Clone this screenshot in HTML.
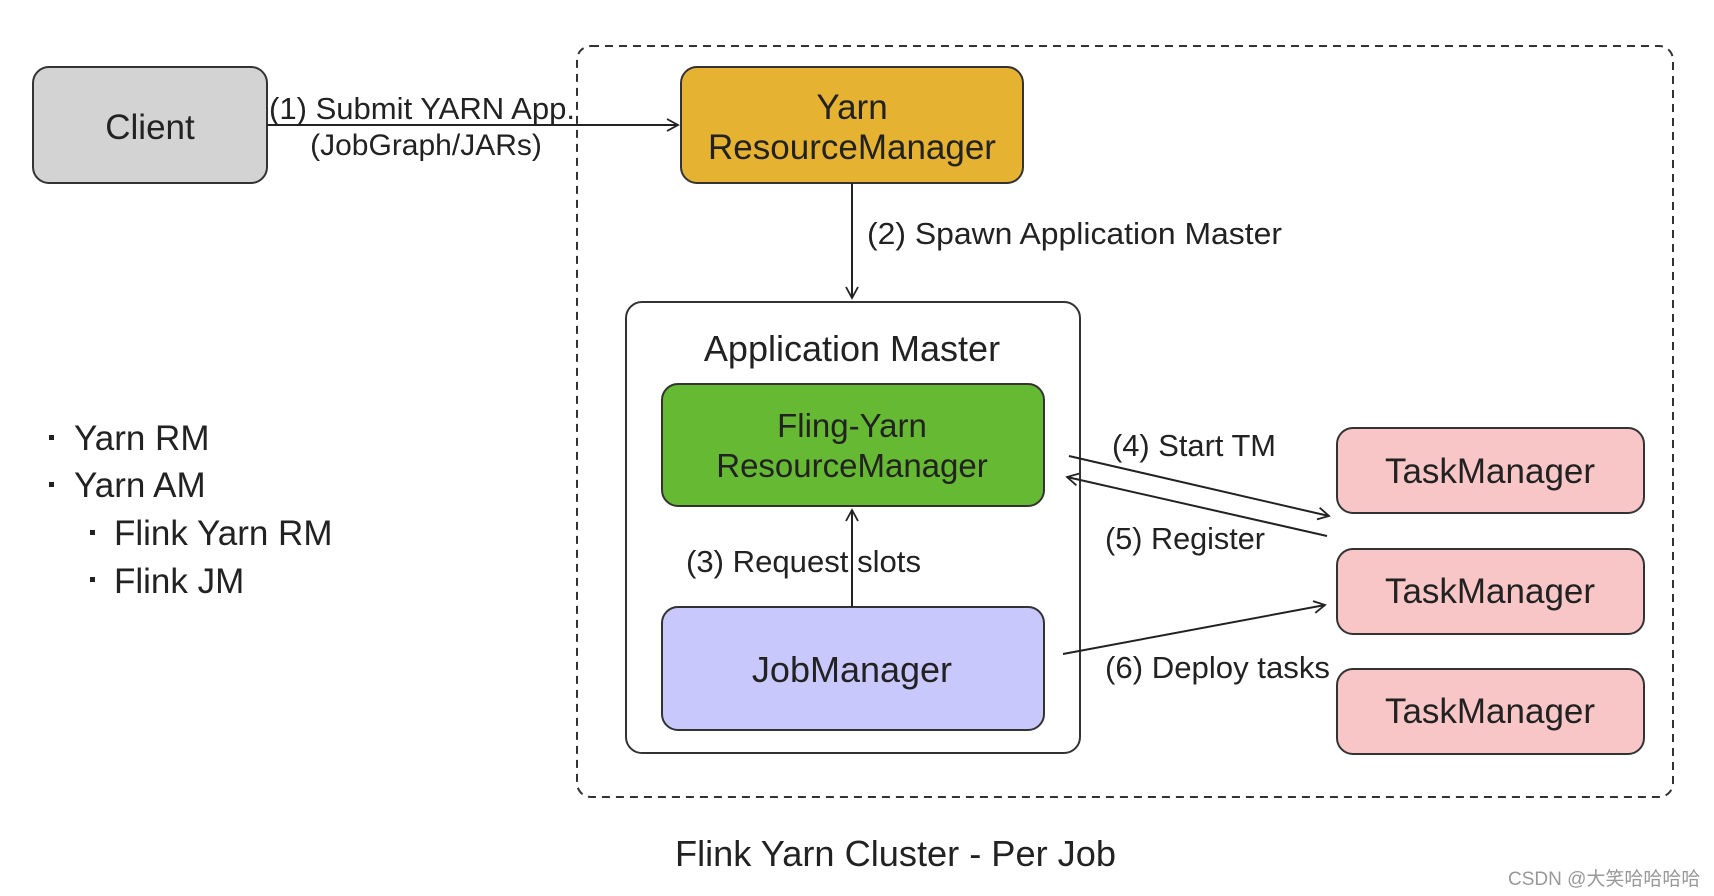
<!DOCTYPE html>
<html><head><meta charset="utf-8"><style>
html,body{margin:0;padding:0;background:#fff;}
svg{display:block;}
text{font-family:"Liberation Sans","Noto Sans CJK SC",sans-serif;fill:#222;}
</style></head><body>
<svg width="1714" height="896" viewBox="0 0 1714 896" xmlns="http://www.w3.org/2000/svg">
<defs>
<marker id="a" markerWidth="14" markerHeight="14" refX="12" refY="7" orient="auto" markerUnits="userSpaceOnUse">
<path d="M1,1 L12,7 L1,13" fill="none" stroke="#222" stroke-width="1.8"/>
</marker>
</defs>
<rect x="577" y="46" width="1096" height="751" rx="14" fill="none" stroke="#333" stroke-width="2" stroke-dasharray="8,6"/>
<rect x="33" y="67" width="234" height="116" rx="16" fill="#d3d3d3" stroke="#333" stroke-width="2"/>
<text x="150" y="139" font-size="35" text-anchor="middle">Client</text>
<rect x="681" y="67" width="342" height="116" rx="16" fill="#e5b232" stroke="#333" stroke-width="2"/>
<text x="852" y="119" font-size="35" text-anchor="middle">Yarn</text>
<text x="852" y="159" font-size="35" text-anchor="middle">ResourceManager</text>
<line x1="267" y1="125" x2="678" y2="125" stroke="#222" stroke-width="2" marker-end="url(#a)"/>
<text x="269" y="119" font-size="31" textLength="306" lengthAdjust="spacingAndGlyphs">(1) Submit YARN App.</text>
<text x="426" y="155" font-size="30" text-anchor="middle">(JobGraph/JARs)</text>
<line x1="852" y1="183" x2="852" y2="298" stroke="#222" stroke-width="2" marker-end="url(#a)"/>
<text x="867" y="244" font-size="31" textLength="415" lengthAdjust="spacingAndGlyphs">(2) Spawn Application Master</text>
<rect x="626" y="302" width="454" height="451" rx="16" fill="#fff" stroke="#333" stroke-width="2"/>
<text x="852" y="361" font-size="36" text-anchor="middle">Application Master</text>
<rect x="662" y="384" width="382" height="122" rx="16" fill="#66ba33" stroke="#333" stroke-width="2"/>
<text x="852" y="437" font-size="33" text-anchor="middle">Fling-Yarn</text>
<text x="852" y="477" font-size="33" text-anchor="middle">ResourceManager</text>
<rect x="662" y="607" width="382" height="123" rx="16" fill="#c9c8fd" stroke="#333" stroke-width="2"/>
<text x="852" y="682" font-size="36" text-anchor="middle">JobManager</text>
<line x1="852" y1="607" x2="852" y2="510" stroke="#222" stroke-width="2" marker-end="url(#a)"/>
<text x="686" y="572" font-size="31" textLength="235" lengthAdjust="spacingAndGlyphs">(3) Request slots</text>
<rect x="1337" y="428" width="307" height="85" rx="16" fill="#f8c6c6" stroke="#333" stroke-width="2"/>
<rect x="1337" y="549" width="307" height="85" rx="16" fill="#f8c6c6" stroke="#333" stroke-width="2"/>
<rect x="1337" y="669" width="307" height="85" rx="16" fill="#f8c6c6" stroke="#333" stroke-width="2"/>
<text x="1490" y="483" font-size="35" text-anchor="middle">TaskManager</text>
<text x="1490" y="603" font-size="35" text-anchor="middle">TaskManager</text>
<text x="1490" y="723" font-size="35" text-anchor="middle">TaskManager</text>
<line x1="1069" y1="456" x2="1329" y2="516" stroke="#222" stroke-width="2" marker-end="url(#a)"/>
<line x1="1327" y1="536" x2="1067" y2="477" stroke="#222" stroke-width="2" marker-end="url(#a)"/>
<line x1="1063" y1="654" x2="1325" y2="605" stroke="#222" stroke-width="2" marker-end="url(#a)"/>
<text x="1112" y="456" font-size="31" textLength="164" lengthAdjust="spacingAndGlyphs">(4) Start TM</text>
<text x="1105" y="549" font-size="31" textLength="160" lengthAdjust="spacingAndGlyphs">(5) Register</text>
<text x="1105" y="678" font-size="31" textLength="225" lengthAdjust="spacingAndGlyphs">(6) Deploy tasks</text>
<rect x="49" y="435" width="5" height="5" fill="#222"/>
<rect x="49" y="482" width="5" height="5" fill="#222"/>
<rect x="90" y="530" width="5" height="5" fill="#222"/>
<rect x="90" y="577" width="5" height="5" fill="#222"/>
<text x="74" y="450" font-size="35">Yarn RM</text>
<text x="74" y="497" font-size="35">Yarn AM</text>
<text x="114" y="545" font-size="35">Flink Yarn RM</text>
<text x="114" y="593" font-size="35">Flink JM</text>
<text x="675" y="866" font-size="36" textLength="441" lengthAdjust="spacingAndGlyphs">Flink Yarn Cluster - Per Job</text>
<text x="1508" y="885" font-size="19" style="fill:#999">CSDN @大笑哈哈哈哈</text>
</svg>
</body></html>
